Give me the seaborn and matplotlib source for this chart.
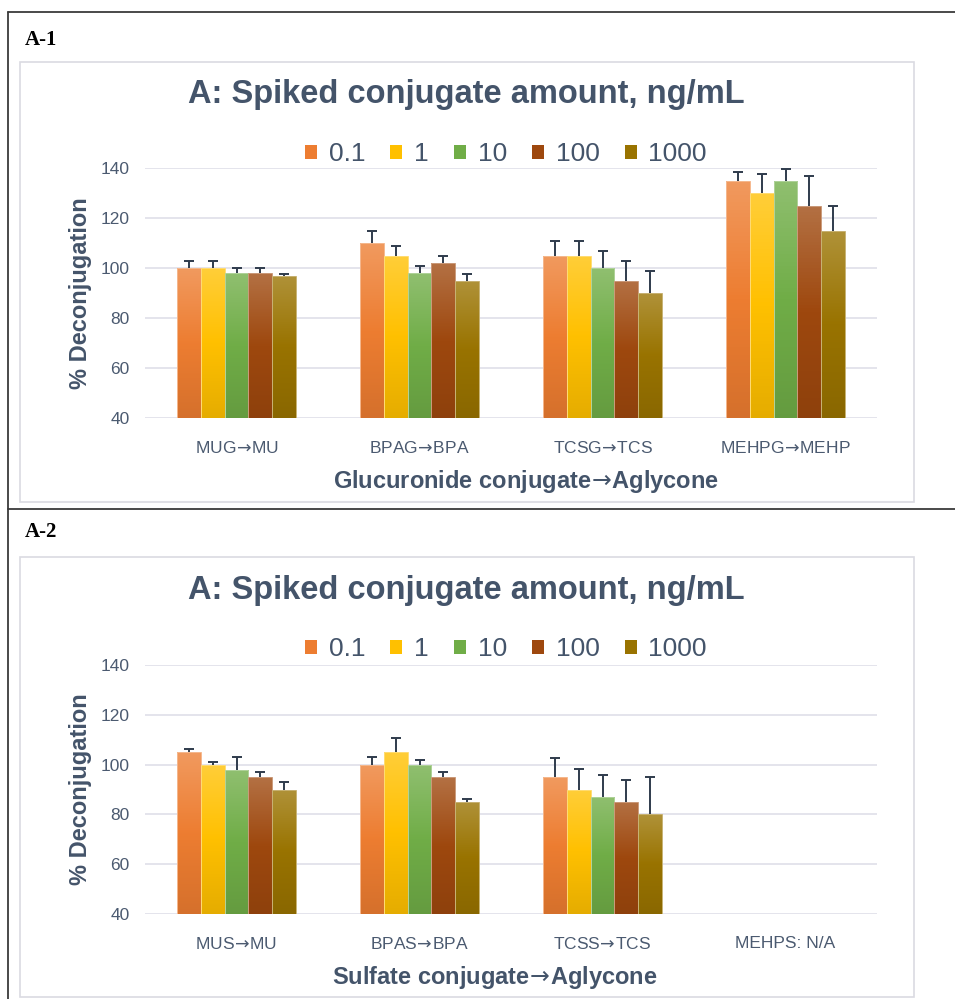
import numpy as np
import pandas as pd
import seaborn as sns
import matplotlib.pyplot as plt
from matplotlib.patches import Patch, Rectangle
from matplotlib.lines import Line2D
from matplotlib.colors import to_rgb

ARROW = '$\\!\\rightarrow\\!$'

# values
amounts = ['0.1', '1', '10', '100', '1000']

glu_cats = ['MUG' + ARROW + 'MU', 'BPAG' + ARROW + 'BPA', 'TCSG' + ARROW + 'TCS',
            'MEHPG' + ARROW + 'MEHP']
# rows follow amounts, columns follow glu_cats
glu_mean = [[100, 110, 105, 135],
            [100, 105, 105, 130],
            [98, 98, 100, 135],
            [98, 102, 95, 125],
            [97, 95, 90, 115]]
glu_err = [[3, 5, 6, 3.5],
           [3, 4, 6, 7.5],
           [2, 3, 7, 4.5],
           [2, 3, 8, 12],
           [0.7, 2.5, 9, 10]]

sul_cats = ['MUS' + ARROW + 'MU', 'BPAS' + ARROW + 'BPA', 'TCSS' + ARROW + 'TCS', 'MEHPS: N/A']
# MEHPS has no data
sul_mean = [[105, 100, 95, np.nan],
            [100, 105, 90, np.nan],
            [98, 100, 87, np.nan],
            [95, 95, 85, np.nan],
            [90, 85, 80, np.nan]]
sul_err = [[1.3, 3, 7.5, np.nan],
           [1, 5.5, 8.3, np.nan],
           [5, 2, 9, np.nan],
           [2, 2, 9, np.nan],
           [3, 1, 15, np.nan]]

colors = ['#ED7D31', '#FFC000', '#70AD47', '#9E480E', '#997300']
text_col = '#44546A'
tick_col = '#4B5A70'
W, H = 955, 999

sns.set_style('white')
plt.rcParams['font.family'] = ['Liberation Sans', 'DejaVu Sans']
plt.rcParams['mathtext.fontset'] = 'dejavusans'


def long_table(cats, mean, err):
    rows = []
    for i, a in enumerate(amounts):
        for j, c in enumerate(cats):
            rows.append({'cat': c, 'amount': a, 'val': mean[i][j], 'err': err[i][j]})
    return pd.DataFrame(rows)


def mix(c, other, t):
    c = np.array(to_rgb(c))
    return tuple(c * (1 - t) + np.array(other) * t)


def gradient_fill(ax, bar, base, ybot):
    x0 = bar.get_x()
    x1 = x0 + bar.get_width()
    top = bar.get_height()
    lo = np.array(mix(base, (0, 0, 0), 0.1))
    mid = np.array(to_rgb(base))
    hi = np.array(mix(base, (1, 1, 1), 0.22))
    t = np.linspace(0, 1, 64)[:, None]
    rgb = np.where(t < 0.5, lo + (mid - lo) * (t / 0.5), mid + (hi - mid) * ((t - 0.5) / 0.5))
    img = rgb[:, None, :]
    im = ax.imshow(img, extent=[x0, x1, ybot, top], origin='lower', aspect='auto', zorder=2)
    im.set_clip_path(bar)
    bar.set_facecolor('none')
    bar.set_edgecolor(mix(base, (1, 1, 1), 0.45))
    bar.set_linewidth(0.7)
    bar.set_zorder(3)


def panel(ax, cats, mean, err, xlabel, xlab_x, box_top):
    df = long_table(cats, mean, err).dropna()
    sns.barplot(data=df, x='cat', y='val', hue='amount', order=cats, hue_order=amounts,
                palette=colors, saturation=1, width=0.65, errorbar=None, legend=False, ax=ax)
    for lvl, col, cont in zip(amounts, colors, ax.containers):
        sub = df[df['amount'] == lvl]
        bars = list(cont)
        xs = np.array([b.get_x() + b.get_width() / 2 for b in bars])
        ys = np.array([b.get_height() for b in bars])
        tops = ys + sub['err'].values
        # upper error bar only, cap at the top
        ax.vlines(xs, ys, tops, color='#2F3B4C', linewidth=1.4, zorder=5)
        ax.plot(xs, tops, linestyle='none', marker='_', markersize=7.5,
                markeredgewidth=1.4, color='#2F3B4C', zorder=5)
        for b in bars:
            gradient_fill(ax, b, col, 40)

    ax.set_xlim(-0.5, len(cats) - 0.5)
    ax.set_ylim(40, 140)
    ax.set_yticks(range(40, 141, 20))
    ax.set_axisbelow(True)
    ax.grid(axis='y', color='#E2E2EA', linewidth=1.3)
    sns.despine(ax=ax, left=True, bottom=True)
    ax.tick_params(axis='both', length=0, labelsize=12.5, labelcolor=tick_col)
    ax.tick_params(axis='x', pad=16)
    ax.tick_params(axis='y', pad=11)
    ax.set_ylabel('% Deconjugation', fontsize=17, fontweight='bold', color=text_col)
    ax.yaxis.set_label_coords(-0.072, 0.5)
    ax.set_xlabel(xlabel, fontsize=17, fontweight='bold', color=text_col)
    ax.xaxis.set_label_coords(xlab_x, -0.2)

    fig.text(466 / W, 1 - (box_top + 33) / H, 'A: Spiked conjugate amount, ng/mL',
             ha='center', va='center', fontsize=23.5, fontweight='bold', color=text_col)
    handles = [Patch(facecolor=c, edgecolor='none') for c in colors]
    ax.legend(handles, amounts, loc='center', bbox_to_anchor=(506 / W, 1 - (box_top + 92) / H),
              bbox_transform=fig.transFigure, ncol=5, frameon=False, fontsize=19,
              labelcolor=text_col, handlelength=0.45, handleheight=0.45,
              handletextpad=0.45, columnspacing=0.95)
    # chart area frame
    fig.add_artist(Rectangle((20 / W, 1 - (box_top + 440) / H), 894 / W, 440 / H,
                             transform=fig.transFigure, facecolor='none',
                             edgecolor='#DADAE2', linewidth=1.2))


fig = plt.figure(figsize=(W / 100, H / 100), dpi=100)
ax1 = fig.add_axes([145 / W, 1 - 418 / H, 732 / W, 250 / H])
ax2 = fig.add_axes([145 / W, 1 - 914 / H, 732 / W, 249 / H])

panel(ax1, glu_cats, glu_mean, glu_err, 'Glucuronide conjugate' + ARROW + 'Aglycone', 0.5205, 62)
panel(ax2, sul_cats, sul_mean, sul_err, 'Sulfate conjugate' + ARROW + 'Aglycone', 0.478, 557)

# table lines around the two cells
for (xa, ya, xb, yb) in [(8, 12, 955, 12), (8, 12, 8, 999), (8, 509, 955, 509)]:
    fig.add_artist(Line2D([xa / W, xb / W], [1 - ya / H, 1 - yb / H], transform=fig.transFigure,
                          color='#3A3A3A', linewidth=1.3))

for tag, ty in [('A-1', 40), ('A-2', 532)]:
    fig.text(25 / W, 1 - ty / H, tag, ha='left', va='center', fontsize=15,
             fontweight='bold', family=['Liberation Serif', 'DejaVu Serif'], color='black')

fig.savefig('out.png', dpi=100)
